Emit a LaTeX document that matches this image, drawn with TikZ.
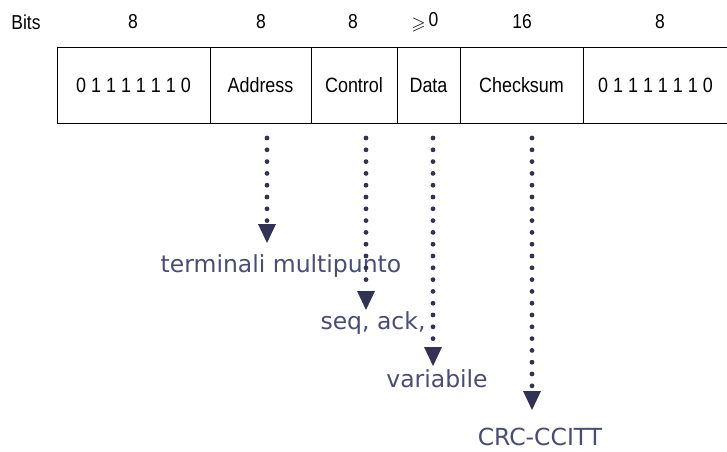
\documentclass[tikz,border=0pt]{standalone}
\usepackage{amssymb}
\usepackage{fontspec}
\setmainfont{Liberation Sans}
\newfontfamily\notefont{DejaVu Sans}
\usetikzlibrary{arrows.meta}
\definecolor{arrowink}{RGB}{50,50,86}
\definecolor{noteink}{RGB}{72,76,118}
\newcommand{\tallfont}[1]{\scalebox{0.97}[1.12]{#1}}
\tikzset{
  field/.style={draw=black, line width=0.8pt, minimum height=76pt, inner sep=0pt,
    font=\fontsize{18.5}{22}\selectfont},
  bitlen/.style={font=\fontsize{18}{22}\selectfont, inner sep=0pt},
  pointer/.style={draw=arrowink, line width=4.8pt, line cap=round,
    dash pattern=on 0pt off 11.8pt,
    -{Triangle[width=18pt,length=19pt,fill=arrowink,line width=0pt]}},
  note/.style={text=noteink, font=\notefont\fontsize{23.5}{27}\selectfont, inner sep=0pt}
}
\begin{document}
\begin{tikzpicture}[x=1pt, y={(0,-1pt)}]
  \useasboundingbox (0,0) rectangle (727,451);

  % frame fields
  \node[field, minimum width=153pt] (flagA) at (133.5,85) {\tallfont{0 1 1 1 1 1 1 0}};
  \node[field, minimum width=101pt] (addr)  at (260.5,85) {\tallfont{Address}};
  \node[field, minimum width=86pt]  (ctrl)  at (354,85)   {\tallfont{Control}};
  \node[field, minimum width=63pt]  (data)  at (428.5,85) {\tallfont{Data}};
  \node[field, minimum width=123pt] (chk)   at (521.5,85) {\tallfont{Checksum}};
  \node[field, minimum width=145pt] (flagB) at (655.5,85) {\tallfont{0 1 1 1 1 1 1 0}};

  % field lengths
  \node[bitlen] (bits) at (26,22) {\tallfont{Bits}};
  \node[bitlen] (lA) at (133,22) {\tallfont{8}};
  \node[bitlen] (lB) at (261,22) {\tallfont{8}};
  \node[bitlen] (lC) at (353,22) {\tallfont{8}};
  \node[bitlen] (lD) at (425,22) {\raisebox{-3pt}{$\geqslant$}\,\tallfont{0}};
  \node[bitlen] (lE) at (522,22) {\tallfont{16}};
  \node[bitlen] (lF) at (660,22) {\tallfont{8}};

  % explanations
  \node[note] (nAddr) at (281,266) {terminali multipunto};
  \node[note] (nCtrl) at (373,323) {seq, ack,};
  \node[note] (nData) at (437,379) {variabile};
  \node[note] (nChk)  at (540,437) {CRC-CCITT};

  % pointer ends
  \coordinate (sAddr) at (267,138);  \coordinate (tAddr) at (267,243);
  \coordinate (sCtrl) at (366,138);  \coordinate (tCtrl) at (366,310);
  \coordinate (sData) at (433,138);  \coordinate (tData) at (433,366);
  \coordinate (sChk)  at (532,138);  \coordinate (tChk)  at (532,410);

  \draw[pointer] (sAddr) -- (tAddr);
  \draw[pointer] (sCtrl) -- (tCtrl);
  \draw[pointer] (sData) -- (tData);
  \draw[pointer] (sChk)  -- (tChk);
\end{tikzpicture}
\end{document}
